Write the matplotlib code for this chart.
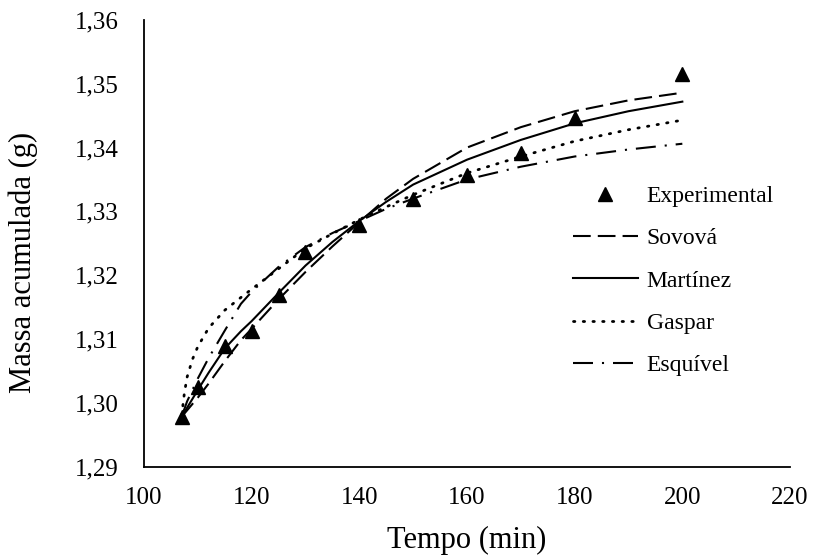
import matplotlib
matplotlib.use("Agg")
import matplotlib.pyplot as plt
from matplotlib.ticker import FuncFormatter, MultipleLocator

plt.rcParams['font.family'] = ['Liberation Serif', 'DejaVu Serif']

# Experimental data
exp_t = [107, 110, 115, 120, 125, 130, 140, 150, 160, 170, 180, 200]
exp_m = [1.2978, 1.3024, 1.3089, 1.3113, 1.3169, 1.3237, 1.3279, 1.3319,
         1.3357, 1.3392, 1.3447, 1.3516]

# Model curves (common time grid)
model_t = [107, 107.5, 108, 109, 110, 112, 115, 118, 120, 125, 130, 135,
           140, 145, 150, 160, 170, 180, 190, 200]
sovova = [1.2978, 1.2983, 1.2988, 1.2998, 1.3008, 1.3030, 1.3065, 1.3098,
          1.3116, 1.3162, 1.3205, 1.3245, 1.3283, 1.3320, 1.3351, 1.3400,
          1.3432, 1.3457, 1.3474, 1.3486]
martinez = [1.2978, 1.2985, 1.2992, 1.3006, 1.3020, 1.3047, 1.3085, 1.3112,
            1.3128, 1.3172, 1.3215, 1.3252, 1.3285, 1.3315, 1.3342, 1.3381,
            1.3412, 1.3438, 1.3457, 1.3472]
gaspar = [1.2980, 1.3015, 1.3040, 1.3068, 1.3088, 1.3117, 1.3145, 1.3165,
          1.3178, 1.3210, 1.3242, 1.3265, 1.3287, 1.3307, 1.3326, 1.3360,
          1.3386, 1.3410, 1.3428, 1.3443]
esquivel = [1.2980, 1.2990, 1.3002, 1.3020, 1.3038, 1.3070, 1.3113, 1.3155,
            1.3174, 1.3213, 1.3244, 1.3266, 1.3285, 1.3304, 1.3320, 1.3350,
            1.3370, 1.3386, 1.3397, 1.3406]

labels = ['Experimental', 'Sovová', 'Martínez', 'Gaspar', 'Esquível']
xlabel = 'Tempo (min)'
ylabel = 'Massa acumulada (g)'

fig = plt.figure(figsize=(8.15, 5.59), dpi=100)
ax = fig.add_axes([144/815, 1-466.5/559, (790-144)/815, (466.5-20)/559])

ax.plot(exp_t, exp_m, linestyle='none', marker='^', markersize=10.5,
        color='black', label=labels[0], zorder=3)
ax.plot(model_t, sovova, color='black', lw=1.5, linestyle=(0, (8.5, 3.4)),
        label=labels[1])
ax.plot(model_t, martinez, color='black', lw=1.5, linestyle='-',
        label=labels[2])
ax.plot(model_t, gaspar, color='black', lw=2.0, linestyle=(0, (0.5, 3.0)),
        dash_capstyle='round', label=labels[3])
ax.plot(model_t, esquivel, color='black', lw=1.5,
        linestyle=(0, (9.6, 4.3, 1.0, 4.3)), label=labels[4])

ax.set_xlim(100, 220)
ax.set_ylim(1.29, 1.36)
ax.xaxis.set_major_locator(MultipleLocator(20))
ax.yaxis.set_major_locator(MultipleLocator(0.01))
ax.yaxis.set_major_formatter(FuncFormatter(lambda v, p: f"{v:.2f}".replace('.', ',')))
ax.xaxis.set_major_formatter(FuncFormatter(lambda v, p: f"{v:.0f}"))

for s in ['top', 'right']:
    ax.spines[s].set_visible(False)
for s in ['left', 'bottom']:
    ax.spines[s].set_linewidth(1.3)
    ax.spines[s].set_color('black')

ax.tick_params(axis='both', length=0, labelsize=18, colors='black')
ax.tick_params(axis='y', pad=18)
ax.tick_params(axis='x', pad=15)

ax.set_xlabel(xlabel, fontsize=22, va='center')
ax.set_ylabel(ylabel, fontsize=22, va='center')
ax.xaxis.set_label_coords(0.5, -0.1646)
ax.yaxis.set_label_coords(-0.1865, 0.457)

leg = ax.legend(loc='center left', bbox_to_anchor=(573/815, 1-280.8/559),
                bbox_transform=fig.transFigure, frameon=False, fontsize=17,
                handlelength=2.75, handletextpad=0.37, labelspacing=0.88,
                borderpad=0, borderaxespad=0)

fig.savefig('out.png', dpi=100)
